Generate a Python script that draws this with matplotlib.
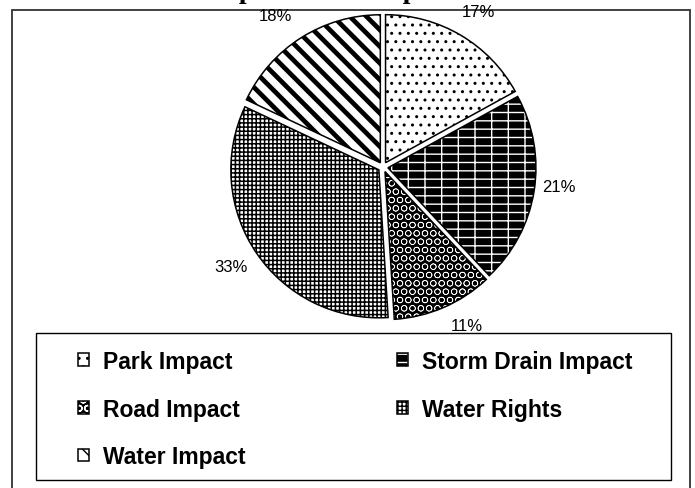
import matplotlib
matplotlib.use('Agg')
import matplotlib.pyplot as plt
from matplotlib.lines import Line2D
from matplotlib.patches import Rectangle
from matplotlib.legend_handler import HandlerTuple

# ---- data ----
categories = ['Park Impact', 'Storm Drain Impact', 'Road Impact', 'Water Rights', 'Water Impact']
shares = [17, 21, 11, 33, 18]
pct_labels = ['17%', '21%', '11%', '33%', '18%']
title = 'Impact Fee Comparison'

W, H = 695, 489
fig = plt.figure(figsize=(W / 100, H / 100), dpi=100)
ax = fig.add_axes([0, 0, 1, 1])

face = ['white', 'black', 'black', 'white', 'white']
hatchc = ['black', 'white', 'white', 'black', 'black']
hatches = ['..', '--|', 'OO', '++++', '\\\\']
hlw = [1.0, 1.0, 0.45, 1.1, 3.4]

cx, cy, r = 383, H - 168, 148
explode = [5] * len(shares)

fills, _ = ax.pie(shares, explode=explode, startangle=90, counterclock=False,
                  center=(cx, cy), radius=r, colors=face,
                  wedgeprops=dict(linewidth=0))
for w, hc, h, lw in zip(fills, hatchc, hatches, hlw):
    w.set_edgecolor(hc)
    w.set_hatch(h)
    if hasattr(w, 'set_hatch_linewidth'):
        w.set_hatch_linewidth(lw)
outlines, _ = ax.pie(shares, explode=explode, startangle=90, counterclock=False,
                     center=(cx, cy), radius=r,
                     wedgeprops=dict(fill=False, edgecolor='black', linewidth=1.1))

ax.set_xlim(0, W)
ax.set_ylim(0, H)
ax.set_aspect('equal')
ax.axis('off')

# percentage labels
label_pos = [(478, 13), (559, 188), (467, 327), (231, 268), (275, 17)]
for (x, y), t in zip(label_pos, pct_labels):
    ax.text(x, H - y, t, ha='center', va='center', fontsize=12,
            family='Liberation Sans', color='black')

# clipped title
fig.text(349 / W, 1 + 2 / H, title, ha='center', va='baseline',
         fontsize=20, family='Liberation Serif', weight='bold')

# outer chart border (open at bottom)
ax.add_line(Line2D([12, 12, 690, 690], [0, H - 11, H - 11, 0],
                   color='#333333', lw=1.3, solid_joinstyle='miter'))

# legend frame
ax.add_patch(Rectangle((36, H - 481), 635, 147, fill=False, ec='black', lw=1.0))

prop = dict(family='Liberation Sans', weight='bold', size=16.5)
handles = [(fills[i], outlines[i]) for i in range(len(shares))]

def make_legend(idx, x):
    return ax.legend([handles[i] for i in idx], [categories[i] for i in idx],
                     loc='upper left', bbox_to_anchor=(x / W, 1 - 351 / H),
                     bbox_transform=fig.transFigure, frameon=False, prop=prop,
                     handlelength=0.48, handleheight=0.48, handletextpad=0.6,
                     labelspacing=1.07, borderpad=0, borderaxespad=0,
                     handler_map={tuple: HandlerTuple(ndivide=1, pad=0)})

leg1 = make_legend([0, 2, 4], 78)
ax.add_artist(leg1)
leg2 = make_legend([1, 3], 397)

fig.savefig('out.png', dpi=100)
